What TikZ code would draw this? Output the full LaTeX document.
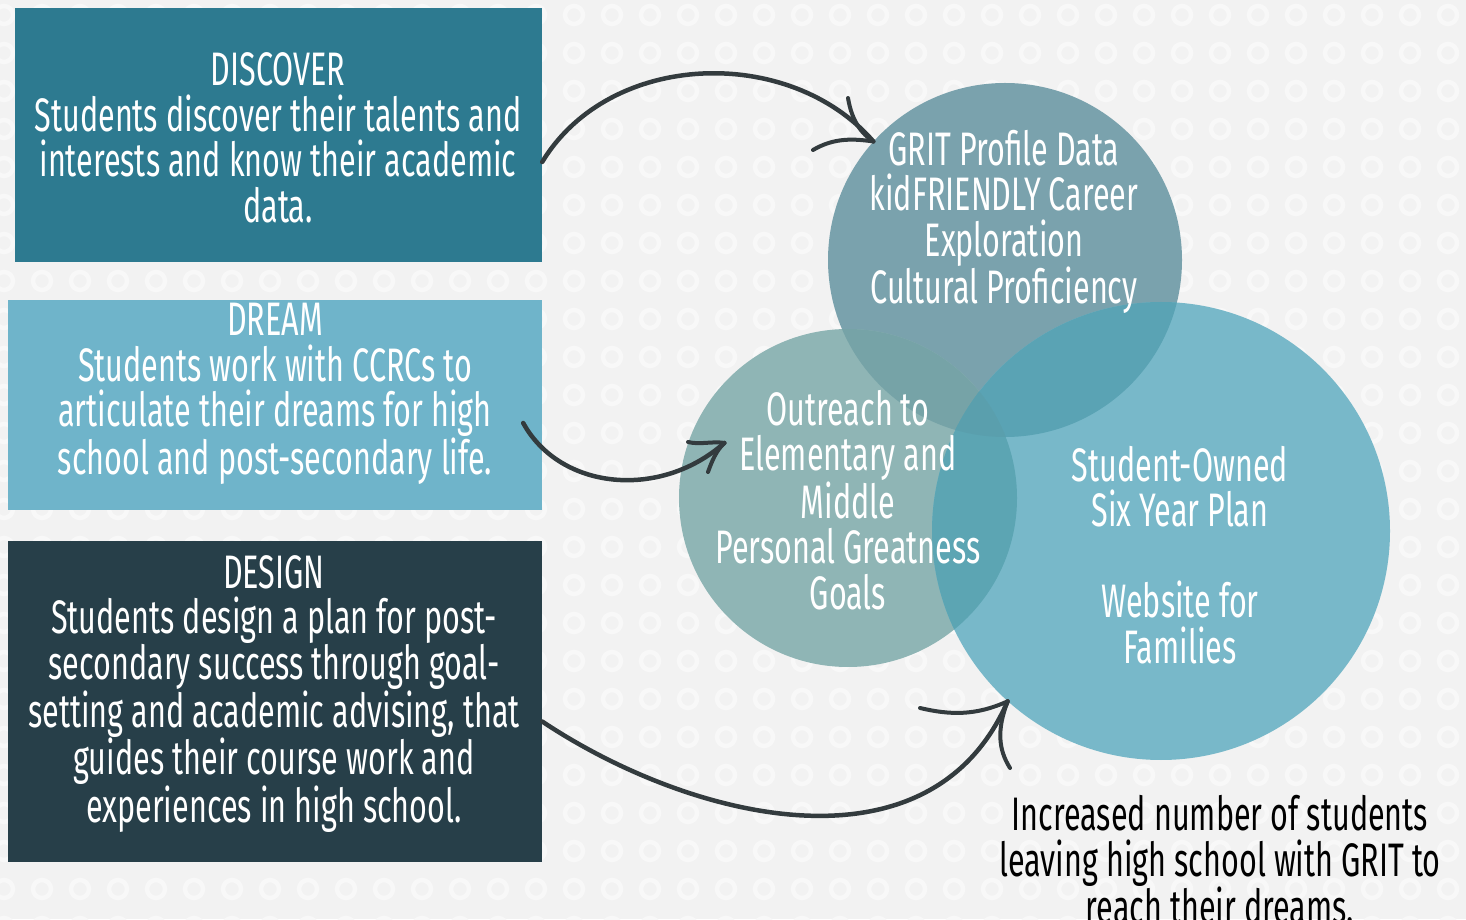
\documentclass[tikz,border=0pt]{standalone}
\usepackage{fontspec}
\newfontfamily\cf{Fira Sans}[FakeStretch=0.65]
\usetikzlibrary{calc}
\definecolor{bgc}{HTML}{F2F2F2}
\definecolor{ringc}{HTML}{F8F8F8}
\definecolor{discoverc}{HTML}{2D7A90}
\definecolor{dreamc}{HTML}{6FB4CA}
\definecolor{designc}{HTML}{273F49}
\definecolor{topc}{HTML}{7AA2AD}
\definecolor{leftc}{HTML}{8FB5B5}
\definecolor{rightc}{HTML}{78B8C9}
\definecolor{tlc}{HTML}{76A3A7}
\definecolor{trc}{HTML}{5AA3B4}
\definecolor{lrc}{HTML}{5CA5B3}
\definecolor{tlrc}{HTML}{5A9FAD}
\definecolor{arrowc}{HTML}{333B3E}
\begin{document}
\begin{tikzpicture}[x=1pt,y=1pt,
  box/.style={rectangle, inner sep=0pt, draw=none},
  ring/.style={circle, inner sep=0pt, minimum size=0pt},
  txt/.style={font=\cf\fontsize{47}{45.5}\selectfont, align=center, text=white, inner sep=0pt},
  dtxt/.style={txt, text=black},
  arr/.style={draw=arrowc, line width=4.5pt, line cap=round},
  barb/.style={draw=arrowc, line width=4pt, line cap=round}]
\fill[bgc] (0,0) rectangle (1466,919);
\useasboundingbox (0,0) rectangle (1466,919);
% background pattern
\foreach \i in {0,...,38} {
  \foreach \j in {0,...,24} {
    \draw[ringc, line width=4.5pt] (4+38*\i, 904-38*\j) circle[radius=9pt];
  }
}
% boxes
\node[box, fill=discoverc, minimum width=527pt, minimum height=254pt] (discover) at (278.5,784) {};
\node[box, fill=dreamc, minimum width=534pt, minimum height=210pt] (dream) at (275,514) {};
\node[box, fill=designc, minimum width=534pt, minimum height=321pt] (design) at (275,217.5) {};
\node[txt] (discovert) at (278,781) {DISCOVER\\Students discover their talents and\\interests and know their academic\\data.};
\node[txt] (dreamt) at (275,525) {DREAM\\Students work with CCRCs to\\articulate their dreams for high\\school and post-secondary life.};
\node[txt] (designt) at (274,225) {DESIGN\\Students design a plan for post-\\secondary success through goal-\\setting and academic advising, that\\guides their course work and\\experiences in high school.};
% circles
\coordinate (cT) at (1005,659);
\coordinate (cL) at (848,421);
\coordinate (cR) at (1161,388);
\node[ring, minimum size=354pt, fill=topc] (grit) at (cT) {};
\node[ring, minimum size=338pt, fill=leftc] (outreach) at (cL) {};
\node[ring, minimum size=458pt, fill=rightc] (student) at (cR) {};
\begin{scope}
  \clip (cT) circle[radius=177pt];
  \fill[tlc] (cL) circle[radius=169pt];
  \fill[trc] (cR) circle[radius=229pt];
  \clip (cL) circle[radius=169pt];
  \fill[tlrc] (cR) circle[radius=229pt];
\end{scope}
\begin{scope}
  \clip (cL) circle[radius=169pt];
  \clip (cR) circle[radius=229pt];
  \fill[lrc] (cR) circle[radius=229pt];
  \clip (cT) circle[radius=177pt];
  \fill[tlrc] (cR) circle[radius=229pt];
\end{scope}
\node[txt] (gritt) at (1004,697) {GRIT Profile Data\\kidFRIENDLY Career\\Exploration\\Cultural Proficiency};
\node[txt] (outreacht) at (848,419) {Outreach to\\Elementary and\\Middle\\Personal Greatness\\Goals};
\node[txt] (studentt) at (1180,364) {Student-Owned\\Six Year Plan\\[45.5pt]Website for\\Families};
\node[dtxt] (result) at (1220,59) {Increased number of students\\leaving high school with GRIT to\\reach their dreams.};
% arrows
\coordinate (a1s) at ([yshift=-27pt]discover.east);
\coordinate (a1e) at (grit.138);
\draw[arr] (a1s) .. controls (610,869) and (790,874) .. (a1e);
\draw[barb] (848,821) .. controls (852,797) and (862,785) .. (a1e);
\draw[barb] (813,769) .. controls (835,782) and (855,780) .. (a1e);
\coordinate (a2s) at ([xshift=-19pt,yshift=-18pt]dream.east);
\coordinate (a2e) at ($(outreach.center)!0.8!(outreach.156)$);
\draw[arr] (a2s) .. controls (560,429) and (660,419) .. (a2e);
\draw[barb] (688,477) .. controls (700,474) and (712,478) .. (a2e);
\draw[barb] (708,447) .. controls (712,458) and (716,468) .. (a2e);
\coordinate (a3s) at ([yshift=-20pt]design.east);
\coordinate (a3e) at (student.228);
\draw[arr] (a3s) .. controls (690,99) and (930,39) .. (a3e);
\draw[barb] (920,211) .. controls (950,204) and (975,203) .. (a3e);
\draw[barb] (1010,151) .. controls (998,170) and (997,190) .. (a3e);
\end{tikzpicture}
\end{document}
